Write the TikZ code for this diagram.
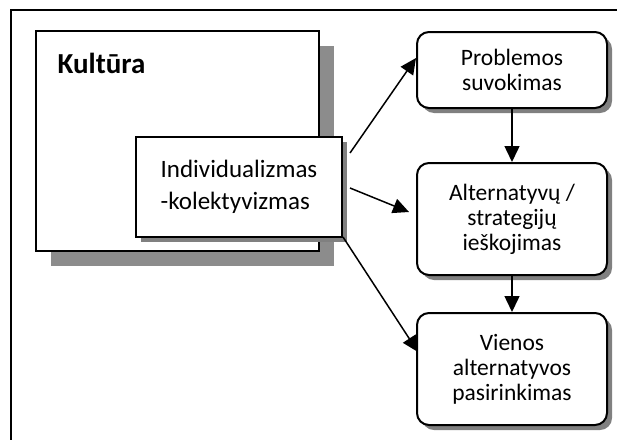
\documentclass[tikz,border=0pt]{standalone}
\usepackage{fontspec}
\setmainfont{Carlito}
\usetikzlibrary{arrows.meta,shadows,calc}
\begin{document}
\begin{tikzpicture}[x=1pt,y=-1pt,
  frameline/.style={line width=1.5pt},
  bigbox/.style={draw,line width=2pt,fill=white,minimum width=283pt,minimum height=220pt,inner sep=0pt,
    drop shadow={shadow xshift=15pt,shadow yshift=-15pt,fill=black!45,opacity=1}},
  midbox/.style={draw,line width=2pt,fill=white,minimum width=206pt,minimum height=100pt,inner sep=0pt,
    drop shadow={shadow xshift=5pt,shadow yshift=-5pt,fill=black!50,opacity=1},
    font=\fontsize{25}{32}\selectfont,align=left},
  stepbox/.style={draw,line width=2pt,fill=white,rounded corners=12pt,minimum width=190pt,inner sep=0pt,
    drop shadow={shadow xshift=5pt,shadow yshift=-5pt,fill=black!50,opacity=1},
    font=\fontsize{23.5}{25}\selectfont,align=center},
  conn/.style={line width=1.5pt,-{Triangle[length=16pt,width=15pt]}}
]
\useasboundingbox (0,0) rectangle (617,439);
\draw[frameline] (11,450) -- (11,10) -- (630,10);
\node[bigbox] (kult) at (177.5,141) {};
\node[font=\fontsize{29}{32}\selectfont\bfseries,anchor=west] (kulttext) at (54,63) {Kultūra};
\node[midbox] (ind) at (239,187) {\begin{tabular}{@{}l@{}}Individualizmas\\-kolektyvizmas\end{tabular}};
\node[stepbox,minimum height=76pt] (p1) at (512,70) {Problemos\\suvokimas};
\node[stepbox,minimum height=112pt] (p2) at (512,219) {Alternatyvų /\\strategijų\\ieškojimas};
\node[stepbox,minimum height=112pt] (p3) at (512,369) {Vienos\\alternatyvos\\pasirinkimas};
\coordinate (s1) at (350,153);
\coordinate (s2) at (350,188);
\coordinate (s3) at (343,237);
\coordinate (t1) at (416,58);
\coordinate (t2) at (409,212);
\coordinate (t3) at (418,352);
\draw[conn] (s1) -- (t1);
\draw[conn] (s2) -- (t2);
\draw[conn] (s3) -- (t3);
\draw[conn] (p1.south) -- (p2.north);
\draw[conn] (p2.south) -- (p3.north);
\end{tikzpicture}
\end{document}
